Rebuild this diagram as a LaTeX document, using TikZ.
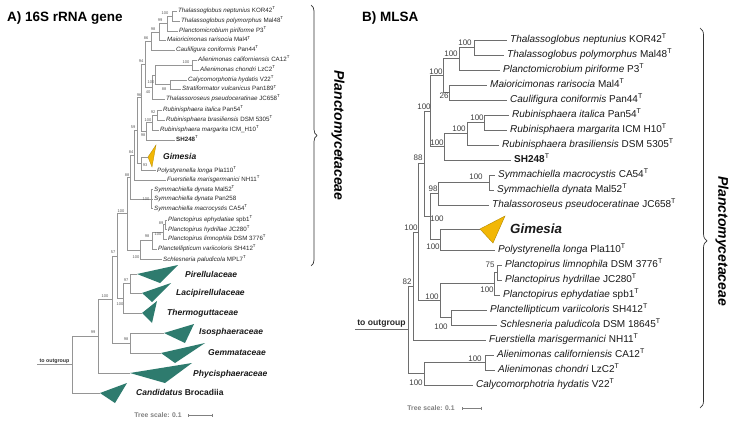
\documentclass[tikz,border=0pt]{standalone}
\usepackage{fontspec}
\setmainfont{Liberation Sans}
\usetikzlibrary{calc,decorations.pathreplacing,arrows.meta}
\definecolor{lineA}{HTML}{959595}
\definecolor{lineB}{HTML}{6E6E6E}
\definecolor{cladeteal}{HTML}{2E7B6E}
\definecolor{gimgold}{HTML}{F2B705}
\definecolor{gimedge}{HTML}{B58A00}
\definecolor{scalegray}{HTML}{808080}
\newcommand\Ty{\textsuperscript{T}}
\newcommand\leafA[4]{\node[lfA] (#1) at (#2,#3) {#4}; \coordinate (#1b) at ({#2-1.5},#3);}
\newcommand\leafB[4]{\node[lfB] (#1) at (#2,#3) {#4}; \coordinate (#1b) at ({#2-3},#3);}
\newcommand\inode[4]{\path let \p1=(#3), \p2=(#4) in (#2pt,{0.5*\y1+0.5*\y2}) coordinate (#1);}
\newcommand\edA[2]{\draw[brA] (#1) |- (#2);}
\newcommand\edB[2]{\draw[brB] (#1) |- (#2);}
\newcommand\bsA[4]{\node[bsA] (#1) at (#2,#3) {#4};}
\newcommand\bsB[4]{\node[bsB] (#1) at (#2,#3) {#4};}
\begin{document}
\begin{tikzpicture}[x=1pt,y=-1pt,
  lfA/.style={anchor=west, inner sep=0pt, font=\fontsize{6.2}{7}\selectfont, text=black!85, text height=4.4pt, text depth=1.4pt},
  lfB/.style={anchor=west, inner sep=0pt, font=\fontsize{10}{12}\selectfont, text=black!90, text height=7.2pt, text depth=2.2pt},
  bsA/.style={inner sep=0pt, font=\fontsize{4}{5}\selectfont, text=black!65},
  bsB/.style={inner sep=0pt, font=\fontsize{8}{9}\selectfont, text=black!75},
  brA/.style={draw=lineA, line width=0.6pt},
  brB/.style={draw=lineB, line width=0.9pt},
  cladeA/.style={anchor=west, inner sep=0pt, font=\bfseries\itshape\fontsize{8.5}{10}\selectfont, text=black!90},
  titlestyle/.style={anchor=west, inner sep=0pt, font=\bfseries\fontsize{13.5}{16}\selectfont},
  famlabel/.style={inner sep=0pt, rotate=-90, font=\bfseries\itshape\fontsize{14}{16}\selectfont},
  bracestyle/.style={draw=black!80, line width=0.7pt, decorate},
  scaletext/.style={inner sep=0pt, font=\bfseries\fontsize{6.8}{8}\selectfont, text=scalegray},
  scalebar/.style={draw=scalegray, line width=0.6pt, {Bar[width=3pt]}-{Bar[width=3pt]}},
  outtext/.style={inner sep=0pt, anchor=south, font=\bfseries}
]
\useasboundingbox (0,0) rectangle (731,425);
\fill[white] (0,0) rectangle (731,425);

% ---------------- titles
\node[titlestyle] (titA) at (7,18) {A) 16S rRNA gene};
\node[titlestyle] (titB) at (362,18) {B) MLSA};

% ================= PANEL A =================
\leafA{aKOR}{178}{11}{\textit{Thalassoglobus neptunius} KOR42\Ty}
\leafA{aMal48}{181}{21}{\textit{Thalassoglobus polymorphus} Mal48\Ty}
\leafA{aP3}{179}{31}{\textit{Planctomicrobium piriforme} P3\Ty}
\leafA{aMal4}{167}{40.5}{\textit{Maioricimonas rarisocia} Mal4\Ty}
\leafA{aPan44}{176}{50}{\textit{Caulifigura coniformis} Pan44\Ty}
\leafA{aCA12}{198}{60}{\textit{Alienimonas californiensis} CA12\Ty}
\leafA{aLzC2}{200}{70}{\textit{Alienimonas chondri} LzC2\Ty}
\leafA{aV22}{188}{80}{\textit{Calycomorphotria hydatis} V22\Ty}
\leafA{aPan189}{182}{89.5}{\textit{Stratiformator vulcanicus} Pan189\Ty}
\leafA{aJC658}{166}{99}{\textit{Thalassoroseus pseudoceratinae} JC658\Ty}
\leafA{aPan54}{163}{110}{\textit{Rubinisphaera italica} Pan54\Ty}
\leafA{aDSM5305}{166}{120}{\textit{Rubinisphaera brasiliensis} DSM 5305\Ty}
\leafA{aICM}{160}{130}{\textit{Rubinisphaera margarita} ICM\_H10\Ty}
\leafA{aSH248}{176}{140}{\textbf{SH248}\Ty}
\leafA{aPla110}{157}{170.5}{\textit{Polystyrenella longa} Pla110\Ty}
\leafA{aNH11}{167}{180}{\textit{Fuerstiella marisgermanici} NH11\Ty}
\leafA{aMal52}{154}{189.5}{\textit{Symmachiella dynata} Mal52\Ty}
\leafA{aPan258}{154}{199}{\textit{Symmachiella dynata} Pan258}
\leafA{aCA54}{154}{208.5}{\textit{Symmachiella macrocystis} CA54\Ty}
\leafA{aspb1}{168}{220}{\textit{Planctopirus ephydatiae} spb1\Ty}
\leafA{aJC280}{168}{229.5}{\textit{Planctopirus hydrillae} JC280\Ty}
\leafA{aDSM3776}{168}{239}{\textit{Planctopirus limnophila} DSM 3776\Ty}
\leafA{aSH412}{158}{249}{\textit{Planctellipticum variicoloris} SH412\Ty}
\leafA{aMPL7}{163}{259.5}{\textit{Schlesneria paludicola} MPL7\Ty}

% collapsed clades (apex points)
\coordinate (aGim) at (148,157);
\coordinate (aPir) at (137,274);
\coordinate (aLac) at (142,293);
\coordinate (aThe) at (142,313);
\coordinate (aIso) at (164,333);
\coordinate (aGem) at (161,353);
\coordinate (aPhy) at (130,373);
\coordinate (aBro) at (100,393);

% internal nodes
\inode{aA1}{172}{aKORb}{aMal48b}
\inode{aA2}{167}{aA1}{aP3b}
\inode{aA3}{159}{aA2}{aMal4b}
\inode{aA4}{151}{aA3}{aPan44b}
\inode{aB1}{192}{aCA12b}{aLzC2b}
\inode{aB2}{170}{aV22b}{aPan189b}
\inode{aB3}{155}{aB1}{aB2}
\inode{aB4}{152}{aB3}{aJC658b}
\inode{aC1}{145}{aA4}{aB4}
\inode{aR1}{157}{aPan54b}{aDSM5305b}
\inode{aR2}{152}{aR1}{aICMb}
\inode{aR3}{146}{aR2}{aSH248b}
\inode{aC2}{141.5}{aC1}{aR3}
\inode{aG1}{141}{aGim}{aPla110b}
\inode{aC3}{137}{aC2}{aG1}
\inode{aC4}{134}{aC3}{aNH11b}
\inode{aSym}{151}{aMal52b}{aCA54b}
\inode{aC5}{130}{aC4}{aSym}
\inode{aP1}{165.5}{aspb1b}{aJC280b}
\inode{aP2}{163}{aP1}{aDSM3776b}
\inode{aP3n}{152}{aP2}{aSH412b}
\inode{aP4}{140}{aP3n}{aMPL7b}
\inode{aC6}{127}{aC5}{aP4}
\inode{aL1}{130}{aPir}{aLac}
\inode{aL2}{123}{aL1}{aThe}
\inode{aN57}{117}{aC6}{aL2}
\inode{aIG}{130}{aIso}{aGem}
\inode{aN100}{112}{aN57}{aIG}
\inode{aN99}{98}{aN100}{aPhy}
\inode{aRoot}{72}{aN99}{aBro}

% branches
\edA{aA1}{aKORb} \edA{aA1}{aMal48b}
\edA{aA2}{aA1} \edA{aA2}{aP3b}
\edA{aA3}{aA2} \edA{aA3}{aMal4b}
\edA{aA4}{aA3} \edA{aA4}{aPan44b}
\edA{aB1}{aCA12b} \edA{aB1}{aLzC2b}
\edA{aB2}{aV22b} \edA{aB2}{aPan189b}
\edA{aB3}{aB1} \edA{aB3}{aB2}
\edA{aB4}{aB3} \edA{aB4}{aJC658b}
\edA{aC1}{aA4} \edA{aC1}{aB4}
\edA{aR1}{aPan54b} \edA{aR1}{aDSM5305b}
\edA{aR2}{aR1} \edA{aR2}{aICMb}
\edA{aR3}{aR2} \edA{aR3}{aSH248b}
\edA{aC2}{aC1} \edA{aC2}{aR3}
\edA{aG1}{aGim} \edA{aG1}{aPla110b}
\edA{aC3}{aC2} \edA{aC3}{aG1}
\edA{aC4}{aC3} \edA{aC4}{aNH11b}
\edA{aSym}{aMal52b} \edA{aSym}{aPan258b} \edA{aSym}{aCA54b}
\edA{aC5}{aC4} \edA{aC5}{aSym}
\edA{aP1}{aspb1b} \edA{aP1}{aJC280b}
\edA{aP2}{aP1} \edA{aP2}{aDSM3776b}
\edA{aP3n}{aP2} \edA{aP3n}{aSH412b}
\edA{aP4}{aP3n} \edA{aP4}{aMPL7b}
\edA{aC6}{aC5} \edA{aC6}{aP4}
\edA{aL1}{aPir} \edA{aL1}{aLac}
\edA{aL2}{aL1} \edA{aL2}{aThe}
\edA{aN57}{aC6} \edA{aN57}{aL2}
\edA{aIG}{aIso} \edA{aIG}{aGem}
\edA{aN100}{aN57} \edA{aN100}{aIG}
\edA{aN99}{aN100} \edA{aN99}{aPhy}
\edA{aRoot}{aN99} \edA{aRoot}{aBro}
\draw[brA] (aRoot) -- ++(-35,0) coordinate (aOut);
\node[outtext, font=\bfseries\fontsize{5.3}{6}\selectfont, text=black!80] (aOutL) at ([yshift=1.2pt]$(aOut)!0.5!(aRoot)$) {to outgroup};

% triangles
\filldraw[fill=gimgold, draw=gimedge, line width=0.3pt] (aGim) -- (156,145) -- (152,167) -- cycle;
\fill[cladeteal] (aPir) -- (178,265) -- (160,283) -- cycle;
\fill[cladeteal] (aLac) -- (171,283) -- (152,302) -- cycle;
\fill[cladeteal] (aThe) -- (157,301) -- (152,323) -- cycle;
\fill[cladeteal] (aIso) -- (194,324) -- (185,343) -- cycle;
\fill[cladeteal] (aGem) -- (205,343) -- (175,363) -- cycle;
\fill[cladeteal] (aPhy) -- (192,363) -- (165,383) -- cycle;
\fill[cladeteal] (aBro) -- (127,383) -- (115,403) -- cycle;

\node[cladeA] (aGimL) at (163,156) {Gimesia};
\node[cladeA] (aPirL) at (185,274) {Pirellulaceae};
\node[cladeA] (aLacL) at (176,293) {Lacipirellulaceae};
\node[cladeA] (aTheL) at (167,313) {Thermoguttaceae};
\node[cladeA] (aIsoL) at (199,332) {Isosphaeraceae};
\node[cladeA] (aGemL) at (208,353) {Gemmataceae};
\node[cladeA] (aPhyL) at (193,374) {Phycisphaeraceae};
\node[cladeA, font=\bfseries\fontsize{8.5}{10}\selectfont] (aBroL) at (136,392) {\textit{Candidatus} Brocadiia};

% bootstrap values A
\bsA{aA1s}{165}{13}{100}
\bsA{aA2s}{160}{20}{99}
\bsA{aA3s}{153}{29}{98}
\bsA{aA4s}{146}{38}{86}
\bsA{aB1s}{186}{62}{100}
\bsA{aB2s}{164}{89}{88}
\bsA{aB3s}{151}{82}{100}
\bsA{aB4s}{148}{92}{40}
\bsA{aC1s}{141}{61}{94}
\bsA{aR1s}{153}{112}{92}
\bsA{aR2s}{148}{120}{100}
\bsA{aR3s}{143}{135.5}{98}
\bsA{aC2s}{139}{95}{96}
\bsA{aC3s}{133}{127}{59}
\bsA{aG1s}{145}{165}{93}
\bsA{aC4s}{131}{152}{84}
\bsA{aC5s}{127}{175}{88}
\bsA{aSyms}{146}{199}{100}
\bsA{aP1s}{161}{223}{89}
\bsA{aP2s}{158}{234}{100}
\bsA{aP3s}{147}{236.5}{98}
\bsA{aP4s}{136}{257}{100}
\bsA{aC6s}{121}{211}{100}
\bsA{aL1s}{126}{280}{97}
\bsA{aL2s}{120}{304}{100}
\bsA{aN57s}{113}{252}{57}
\bsA{aN100s}{105}{296}{100}
\bsA{aIGs}{126}{339}{98}
\bsA{aN99s}{93}{332}{99}

% scale A
\node[scaletext] (aScT) at (158,415) {Tree scale: 0.1};
\coordinate (aSc1) at (188,415);
\coordinate (aSc2) at (213,415);
\draw[scalebar] (aSc1) -- (aSc2);

% brace A
\coordinate (aBr1) at (311,5);
\coordinate (aBr2) at (311,266);
\draw[bracestyle, decoration={brace, amplitude=6pt}] (aBr1) -- (aBr2);
\node[famlabel] (aFam) at (338,135.5) {Planctomycetaceae};

% ================= PANEL B =================
\leafB{bKOR}{510}{40}{\textit{Thalassoglobus neptunius} KOR42\Ty}
\leafB{bMal48}{507}{55}{\textit{Thalassoglobus polymorphus} Mal48\Ty}
\leafB{bP3}{503}{70}{\textit{Planctomicrobium piriforme} P3\Ty}
\leafB{bMal4}{490}{85}{\textit{Maioricimonas rarisocia} Mal4\Ty}
\leafB{bPan44}{510}{100}{\textit{Caulifigura coniformis} Pan44\Ty}
\leafB{bPan54}{512}{115}{\textit{Rubinisphaera italica} Pan54\Ty}
\leafB{bICM}{510}{130}{\textit{Rubinisphaera margarita} ICM H10\Ty}
\leafB{bDSM5305}{502}{145}{\textit{Rubinisphaera brasiliensis} DSM 5305\Ty}
\leafB{bSH248}{514}{160}{\textbf{SH248}\Ty}
\leafB{bCA54}{498}{175}{\textit{Symmachiella macrocystis} CA54\Ty}
\leafB{bMal52}{497}{190}{\textit{Symmachiella dynata} Mal52\Ty}
\leafB{bJC658}{492}{205}{\textit{Thalassoroseus pseudoceratinae} JC658\Ty}
\leafB{bPla110}{498}{250}{\textit{Polystyrenella longa} Pla110\Ty}
\leafB{bDSM3776}{505}{265}{\textit{Planctopirus limnophila} DSM 3776\Ty}
\leafB{bJC280}{505}{280}{\textit{Planctopirus hydrillae} JC280\Ty}
\leafB{bspb1}{503}{295}{\textit{Planctopirus ephydatiae} spb1\Ty}
\leafB{bSH412}{490}{310}{\textit{Planctellipticum variicoloris} SH412\Ty}
\leafB{bDSM18645}{500}{325}{\textit{Schlesneria paludicola} DSM 18645\Ty}
\leafB{bNH11}{489}{340}{\textit{Fuerstiella marisgermanici} NH11\Ty}
\leafB{bCA12}{497}{355}{\textit{Alienimonas californiensis} CA12\Ty}
\leafB{bLzC2}{498}{370}{\textit{Alienimonas chondri} LzC2\Ty}
\leafB{bV22}{476}{385}{\textit{Calycomorphotria hydatis} V22\Ty}
\coordinate (bGim) at (480,229);

\inode{bRa}{474}{bKORb}{bMal48b}
\inode{bRb}{459}{bRa}{bP3b}
\inode{bRd}{449}{bMal4b}{bPan44b}
\inode{bRc}{443}{bRb}{bRd}
\inode{bRf}{484}{bPan54b}{bICMb}
\inode{bRg}{467}{bRf}{bDSM5305b}
\inode{bRh}{444}{bRg}{bSH248b}
\inode{bRe}{430}{bRc}{bRh}
\inode{bSy}{489}{bCA54b}{bMal52b}
\inode{bRj}{438}{bSy}{bJC658b}
\inode{bRk}{440}{bGim}{bPla110b}
\inode{bRq}{430}{bRj}{bRk}
\inode{bRi}{424}{bRe}{bRq}
\inode{bPl1}{497}{bDSM3776b}{bJC280b}
\inode{bPl2}{494}{bPl1}{bspb1b}
\inode{bSN}{451}{bSH412b}{bDSM18645b}
\inode{bPg}{440}{bPl2}{bSN}
\inode{bNup}{418}{bRi}{bPg}
\inode{bN82}{413}{bNup}{bNH11b}
\inode{bAl}{485}{bCA12b}{bLzC2b}
\inode{bRz}{424}{bAl}{bV22b}
\inode{bRoot}{408}{bN82}{bRz}

\edB{bRa}{bKORb} \edB{bRa}{bMal48b}
\edB{bRb}{bRa} \edB{bRb}{bP3b}
\edB{bRd}{bMal4b} \edB{bRd}{bPan44b}
\edB{bRc}{bRb} \edB{bRc}{bRd}
\edB{bRf}{bPan54b} \edB{bRf}{bICMb}
\edB{bRg}{bRf} \edB{bRg}{bDSM5305b}
\edB{bRh}{bRg} \edB{bRh}{bSH248b}
\edB{bRe}{bRc} \edB{bRe}{bRh}
\edB{bSy}{bCA54b} \edB{bSy}{bMal52b}
\edB{bRj}{bSy} \edB{bRj}{bJC658b}
\edB{bRk}{bGim} \edB{bRk}{bPla110b}
\edB{bRq}{bRj} \edB{bRq}{bRk}
\edB{bRi}{bRe} \edB{bRi}{bRq}
\edB{bPl1}{bDSM3776b} \edB{bPl1}{bJC280b}
\edB{bPl2}{bPl1} \edB{bPl2}{bspb1b}
\edB{bSN}{bSH412b} \edB{bSN}{bDSM18645b}
\edB{bPg}{bPl2} \edB{bPg}{bSN}
\edB{bNup}{bRi} \edB{bNup}{bPg}
\edB{bN82}{bNup} \edB{bN82}{bNH11b}
\edB{bAl}{bCA12b} \edB{bAl}{bLzC2b}
\edB{bRz}{bAl} \edB{bRz}{bV22b}
\edB{bRoot}{bN82} \edB{bRoot}{bRz}
\draw[brB] (bRoot) -- ++(-53,0) coordinate (bOut);
\node[outtext, font=\bfseries\fontsize{8.6}{10}\selectfont, text=black!85] (bOutL) at ([yshift=2pt]$(bOut)!0.5!(bRoot)$) {to outgroup};

\filldraw[fill=gimgold, draw=gimedge, line width=0.4pt] (bGim) -- (505,216) -- (493,243) -- cycle;
\node[cladeA, font=\bfseries\itshape\fontsize{13.3}{15}\selectfont] (bGimL) at (510,229) {Gimesia};

\bsB{bRas}{465}{43}{100}
\bsB{bRbs}{451}{54}{100}
\bsB{bRcs}{436}{72}{100}
\bsB{bRds}{444}{95.5}{26}
\bsB{bRes}{424}{107}{100}
\bsB{bRfs}{477}{118}{100}
\bsB{bRgs}{459}{129}{100}
\bsB{bRhs}{437}{143}{100}
\bsB{bRis}{418}{158}{88}
\bsB{bSys}{476}{177}{100}
\bsB{bRjs}{433}{189}{98}
\bsB{bRqs}{437}{219}{100}
\bsB{bRks}{433}{247}{100}
\bsB{bNups}{411}{228}{100}
\bsB{bPl1s}{490}{265}{75}
\bsB{bPl2s}{487}{290}{100}
\bsB{bPgs}{432}{297}{100}
\bsB{bSNs}{441}{327}{100}
\bsB{bN82s}{407}{282}{82}
\bsB{bAls}{475}{359}{100}
\bsB{bRzs}{416}{383}{100}

% scale B
\node[scaletext] (bScT) at (431,408) {Tree scale: 0.1};
\coordinate (bSc1) at (462,408);
\coordinate (bSc2) at (482,408);
\draw[scalebar] (bSc1) -- (bSc2);

% brace B
\coordinate (bBr1) at (700,28);
\coordinate (bBr2) at (700,408);
\draw[bracestyle, decoration={brace, amplitude=7pt, aspect=0.56}] (bBr1) -- (bBr2);
\node[famlabel] (bFam) at (722,241) {Planctomycetaceae};
\end{tikzpicture}
\end{document}
